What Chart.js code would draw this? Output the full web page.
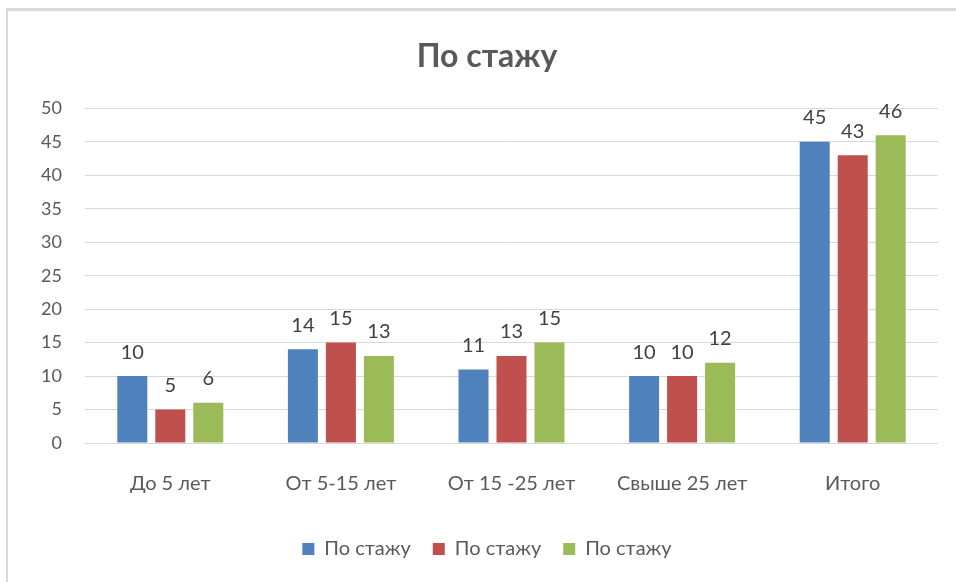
<!DOCTYPE html>
<html>
<head>
<meta charset="utf-8">
<script src="https://cdn.jsdelivr.net/npm/chart.js@4"></script>
<style>
  body { margin: 0; background: #ffffff; overflow: hidden; }
  #frame {
    position: absolute; left: 6px; top: 8px; width: 960px; height: 574px;
    border-left: 2px solid #d9d9d9; border-top: 3px solid #d9d9d9;
    overflow: hidden; background: #ffffff;
  }
  #chart { position: absolute; left: 0; top: 0; }
</style>
</head>
<body>
<div id="frame"><canvas id="chart" width="958" height="571"></canvas></div>
<script>
// chart data
const categories = ['До 5 лет', 'От 5-15 лет', 'От 15 -25 лет', 'Свыше 25 лет', 'Итого'];
const seriesNames = ['По стажу', 'По стажу', 'По стажу'];
const series1 = [10, 14, 11, 10, 45];
const series2 = [5, 15, 13, 10, 43];
const series3 = [6, 13, 15, 12, 46];
const yTicks = [0, 5, 10, 15, 20, 25, 30, 35, 40, 45, 50];

const colors = ['#4F81BD', '#C0504D', '#9BBB59'];
const fontFamily = 'Lato, "Liberation Sans", sans-serif';

// draws the value above each bar
const valueLabels = {
    id: 'valueLabels',
    afterDatasetsDraw(chart) {
        const ctx = chart.ctx;
        ctx.save();
        ctx.font = '20px ' + fontFamily;
        ctx.fillStyle = '#404040';
        ctx.textAlign = 'center';
        ctx.textBaseline = 'middle';
        chart.data.datasets.forEach((ds, i) => {
            const meta = chart.getDatasetMeta(i);
            meta.data.forEach((bar, j) => {
                ctx.fillText(String(ds.data[j]), bar.x, bar.y - 24);
            });
        });
        ctx.restore();
    }
};

const ctx = document.getElementById('chart').getContext('2d');
new Chart(ctx, {
    type: 'bar',
    data: {
        labels: categories,
        datasets: [series1, series2, series3].map((vals, i) => ({
            label: seriesNames[i],
            data: vals,
            backgroundColor: colors[i],
            borderWidth: 0,
            categoryPercentage: 0.668,
            barPercentage: 0.79
        }))
    },
    options: {
        responsive: false,
        animation: false,
        layout: { padding: { left: 28, right: 28, top: 0, bottom: 13 } },
        scales: {
            x: {
                grid: { display: false, drawTicks: false },
                border: { display: false },
                ticks: { color: '#595959', font: { family: fontFamily, size: 20 }, padding: 29 },
                afterFit(scale) { scale.height = 74; }
            },
            y: {
                min: 0,
                max: 50,
                afterBuildTicks(scale) { scale.ticks = yTicks.map(v => ({ value: v })); },
                grid: { color: '#d9d9d9', drawTicks: false },
                border: { display: false },
                ticks: { color: '#595959', font: { family: fontFamily, size: 18 }, padding: 23 },
                afterFit(scale) { scale.width = 49; }
            }
        },
        plugins: {
            title: {
                display: true,
                text: 'По стажу',
                color: '#595959',
                font: { family: fontFamily, size: 32, weight: 'bold' },
                padding: { top: 26, bottom: 33 }
            },
            legend: {
                position: 'bottom',
                labels: {
                    color: '#595959',
                    font: { family: fontFamily, size: 20 },
                    boxWidth: 12,
                    boxHeight: 12,
                    padding: 22
                }
            },
            tooltip: { enabled: false }
        }
    },
    plugins: [valueLabels]
});
</script>
</body>
</html>
